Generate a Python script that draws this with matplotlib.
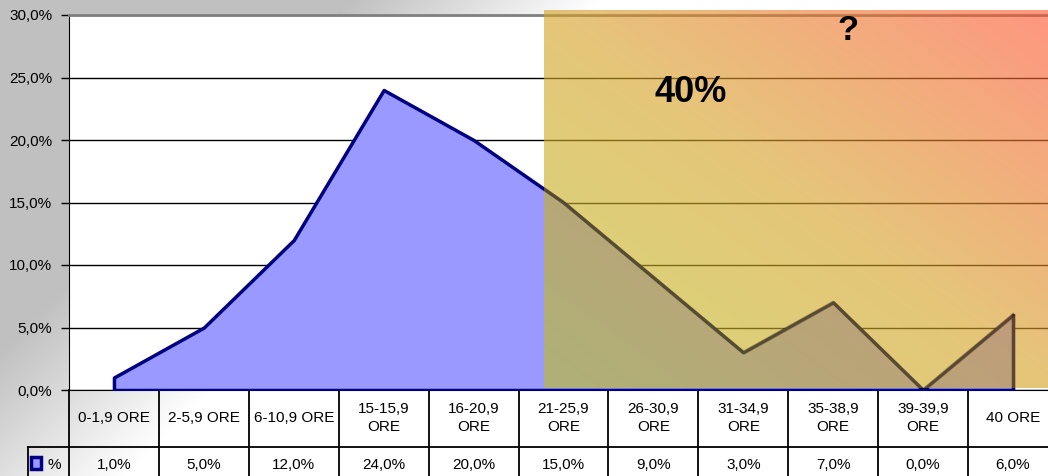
import numpy as np
import matplotlib.pyplot as plt
from matplotlib.patches import Rectangle

plt.rcParams['font.family'] = ['Liberation Sans', 'DejaVu Sans']

# dati
categorie = ["0-1,9 ORE", "2-5,9 ORE", "6-10,9 ORE", "15-15,9\nORE", "16-20,9\nORE",
             "21-25,9\nORE", "26-30,9\nORE", "31-34,9\nORE", "35-38,9\nORE",
             "39-39,9\nORE", "40 ORE"]
valori = [1.0, 5.0, 12.0, 24.0, 20.0, 15.0, 9.0, 3.0, 7.0, 0.0, 6.0]
etichette = ["1,0%", "5,0%", "12,0%", "24,0%", "20,0%", "15,0%", "9,0%",
             "3,0%", "7,0%", "0,0%", "6,0%"]
yticks = [0, 5, 10, 15, 20, 25, 30]
ylabels = ["0,0%", "5,0%", "10,0%", "15,0%", "20,0%", "25,0%", "30,0%"]

W, H = 1048, 476
fig = plt.figure(figsize=(W / 100, H / 100), dpi=100)

# sfondo sfumato grigio -> bianco
bg = fig.add_axes([0, 0, 1, 1], zorder=-10)
xx, yy = np.meshgrid(np.arange(W), np.arange(H))
t = np.clip((xx + yy - 350) / 250.0, 0, 1)
g = (192 + 63 * t) / 255.0
bg.imshow(np.dstack([g, g, g]), aspect='auto', extent=[0, W, H, 0])
bg.set_xlim(0, W)
bg.set_ylim(H, 0)
bg.axis('off')

# area del grafico (pixel: x 69..1058, y 15..390)
left, right, top, bottom = 69, 1058, 15, 390
ax = fig.add_axes([left / W, (H - bottom) / H, (right - left) / W, (bottom - top) / H])
ax.set_facecolor('white')

x = np.arange(len(valori))
ax.fill_between(x, valori, 0, facecolor='#9999ff', edgecolor='#000080', linewidth=2.5, zorder=3)

ax.set_xlim(-0.5, len(valori) - 0.5)
ax.set_ylim(0, 30)
ax.set_yticks(yticks)
ax.set_yticklabels(ylabels, fontsize=11)
ax.set_xticks([])
ax.yaxis.grid(True, color='black', linewidth=1, zorder=1)
ax.set_axisbelow(True)
ax.tick_params(axis='y', direction='out', length=6, width=1, pad=6, colors='black')
ax.spines['top'].set_color('#808080')
ax.spines['top'].set_linewidth(2)
ax.spines['right'].set_visible(False)
ax.spines['left'].set_color('black')
ax.spines['bottom'].set_color('black')

# riquadro sfumato semitrasparente
nx, ny = 300, 200
u, v = np.meshgrid(np.linspace(0, 1, nx), np.linspace(0, 1, ny))
s = (u + (1 - v)) / 2
stops = np.array([[189, 192, 35], [214, 163, 40], [255, 85, 50]]) / 255.0
img = np.zeros((ny, nx, 4))
for k in range(3):
    img[:, :, k] = np.interp(s, [0, 0.5, 1], stops[:, k])
img[:, :, 3] = 0.62
x0 = (544 - left) / ((right - left) / len(valori)) - 0.5
ax.imshow(img, extent=[x0, len(valori) - 0.5, 0.12, 30.3], origin='upper', aspect='auto',
          zorder=5, clip_on=False)
ax.set_xlim(-0.5, len(valori) - 0.5)
ax.set_ylim(0, 30)

# linea scurita sotto il riquadro
clip = Rectangle((x0, 0.12), len(valori), 31, transform=ax.transData, visible=False)
ax.add_patch(clip)
ombra, = ax.plot(x, valori, color='black', alpha=0.3, linewidth=2.5, zorder=5.5)
ombra.set_clip_path(clip)
bordo, = ax.plot([x[-1], x[-1]], [0, valori[-1]], color='black', alpha=0.3, linewidth=2.5, zorder=5.5)
bordo.set_clip_path(clip)

ax.text(6.41, 23.8, "40%", fontsize=26, fontweight='bold', ha='center', va='center', zorder=6)
ax.text(8.16, 28.8, "?", fontsize=25, fontweight='bold', ha='center', va='center', zorder=6,
        clip_on=False)

# tabella dati
tr = ax.get_xaxis_transform()
def ay(py):
    return (bottom - py) / (bottom - top)

for i in range(len(valori) + 1):
    ax.plot([i - 0.5, i - 0.5], [0, ay(480)], transform=tr, color='black', lw=1.3, clip_on=False)
ax.plot([-0.5, len(valori) - 0.5], [ay(447), ay(447)], transform=tr, color='black', lw=1.3, clip_on=False)
fig.add_artist(plt.Line2D([28 / W, left / W], [1 - 447 / H, 1 - 447 / H], color='black', lw=1.3))
fig.add_artist(plt.Line2D([28 / W, 28 / W], [1 - 447 / H, 0], color='black', lw=1.3))

for i, (c, e) in enumerate(zip(categorie, etichette)):
    ax.text(i, ay(418), c, transform=tr, ha='center', va='center', fontsize=11,
            linespacing=1.45, clip_on=False)
    ax.text(i, ay(465), e, transform=tr, ha='center', va='center', fontsize=11, clip_on=False)

# legenda
fig.add_artist(Rectangle((31 / W, 1 - 469 / H), 10 / W, 12 / H, facecolor='#9999ff',
                         edgecolor='#000080', linewidth=2.5, transform=fig.transFigure))
fig.text(47 / W, 1 - 465 / H, "%", fontsize=11, va='center', ha='left')

plt.savefig("out.png", dpi=100)
